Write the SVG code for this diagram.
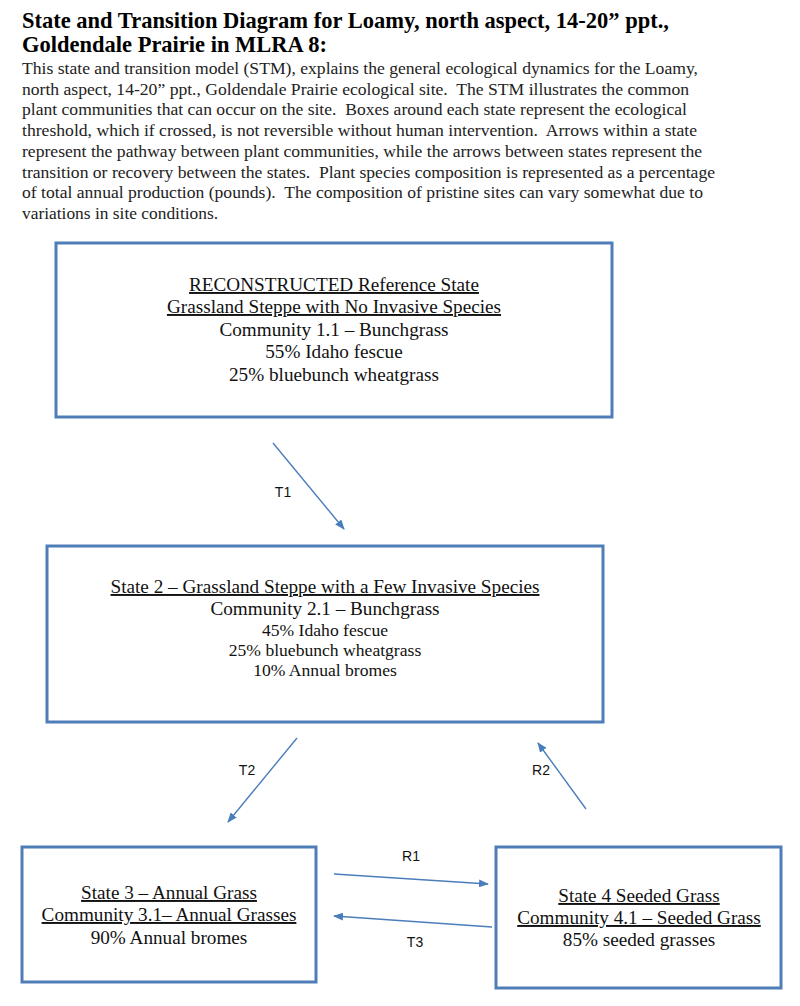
<svg xmlns="http://www.w3.org/2000/svg" width="800" height="1006" viewBox="0 0 800 1006">
<style>
.title{font-family:"Liberation Serif",serif;font-weight:bold;font-size:22.5px;fill:#000}
.para{font-family:"Liberation Serif",serif;font-size:17.4px;fill:#222;white-space:pre}
.box{fill:#fff;stroke:#4F7DB8;stroke-width:3}
.t18{font-family:"Liberation Serif",serif;font-size:19.2px;fill:#111;text-anchor:middle}
.t16{font-family:"Liberation Serif",serif;font-size:17.6px;fill:#111;text-anchor:middle}
.u{text-decoration:underline}
.lbl{font-family:"Liberation Sans",sans-serif;font-size:14px;fill:#111;text-anchor:middle}
.arr{stroke:#4A7EBB;stroke-width:1.4;fill:none;marker-end:url(#ah)}
</style>
<defs>
<marker id="ah" markerWidth="10" markerHeight="8" refX="9" refY="4" orient="auto" markerUnits="userSpaceOnUse">
<path d="M0,0 L10,4 L0,8 Z" fill="#4A7EBB"/>
</marker>
</defs>
<rect width="800" height="1006" fill="#fff"/>
<g id="header">
<text class="title" x="22" y="28">State and Transition Diagram for Loamy, north aspect, 14-20” ppt.,</text>
<text class="title" x="22" y="52">Goldendale Prairie in MLRA 8:</text>
<text class="para" x="22" y="74" textLength="676" lengthAdjust="spacingAndGlyphs">This state and transition model (STM), explains the general ecological dynamics for the Loamy,</text>
<text class="para" x="22" y="94.7" textLength="667" lengthAdjust="spacingAndGlyphs">north aspect, 14-20” ppt., Goldendale Prairie ecological site.  The STM illustrates the common</text>
<text class="para" x="22" y="115.4" textLength="665" lengthAdjust="spacingAndGlyphs">plant communities that can occur on the site.  Boxes around each state represent the ecological</text>
<text class="para" x="22" y="136.1" textLength="675" lengthAdjust="spacingAndGlyphs">threshold, which if crossed, is not reversible without human intervention.  Arrows within a state</text>
<text class="para" x="22" y="156.8" textLength="680" lengthAdjust="spacingAndGlyphs">represent the pathway between plant communities, while the arrows between states represent the</text>
<text class="para" x="22" y="177.5" textLength="693" lengthAdjust="spacingAndGlyphs">transition or recovery between the states.  Plant species composition is represented as a percentage</text>
<text class="para" x="22" y="198.2" textLength="681" lengthAdjust="spacingAndGlyphs">of total annual production (pounds).  The composition of pristine sites can vary somewhat due to</text>
<text class="para" x="22" y="218.9">variations in site conditions.</text>
</g>
<g id="state1">
<rect class="box" x="56" y="243" width="556" height="174"/>
<text class="t18 u" x="334" y="291">RECONSTRUCTED Reference State</text>
<text class="t18 u" x="334" y="313">Grassland Steppe with No Invasive Species</text>
<text class="t18" x="334" y="336">Community 1.1 – Bunchgrass</text>
<text class="t18" x="334" y="358">55% Idaho fescue</text>
<text class="t18" x="334" y="381">25% bluebunch wheatgrass</text>
</g>
<g id="state2">
<rect class="box" x="47" y="546" width="556" height="176"/>
<text class="t18 u" x="325" y="593">State 2 – Grassland Steppe with a Few Invasive Species</text>
<text class="t18" x="325" y="615">Community 2.1 – Bunchgrass</text>
<text class="t16" x="325" y="636">45% Idaho fescue</text>
<text class="t16" x="325" y="656">25% bluebunch wheatgrass</text>
<text class="t16" x="325" y="676">10% Annual bromes</text>
</g>
<g id="state3">
<rect class="box" x="22" y="847" width="294" height="135"/>
<text class="t18 u" x="169" y="899">State 3 – Annual Grass</text>
<text class="t18 u" x="169" y="921">Community 3.1– Annual Grasses</text>
<text class="t18" x="169" y="944">90% Annual bromes</text>
</g>
<g id="state4">
<rect class="box" x="496" y="847" width="285" height="141"/>
<text class="t18 u" x="639" y="902">State 4 Seeded Grass</text>
<text class="t18 u" x="639" y="924">Community 4.1 – Seeded Grass</text>
<text class="t18" x="639" y="946">85% seeded grasses</text>
</g>
<g id="connectors">
<line class="arr" x1="273" y1="443" x2="344" y2="529"/>
<line class="arr" x1="297" y1="738" x2="228" y2="822"/>
<line class="arr" x1="586" y1="809" x2="538" y2="743"/>
<line class="arr" x1="334" y1="874" x2="488" y2="884"/>
<line class="arr" x1="492" y1="927" x2="334" y2="916"/>
<text class="lbl" x="283" y="497">T1</text>
<text class="lbl" x="247" y="775">T2</text>
<text class="lbl" x="541" y="775">R2</text>
<text class="lbl" x="411" y="861">R1</text>
<text class="lbl" x="415" y="947">T3</text>
</g>
</svg>
